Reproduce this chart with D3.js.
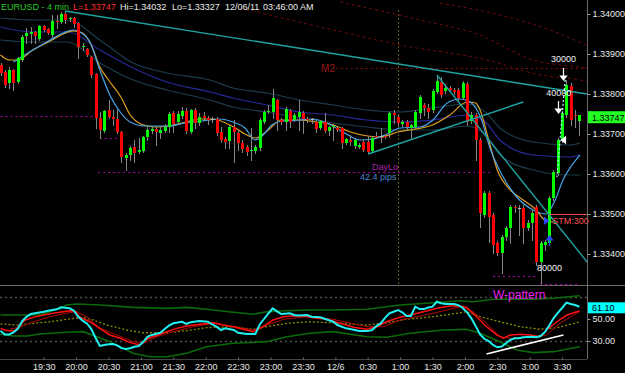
<!DOCTYPE html>
<html>
<head>
<meta charset="utf-8">
<script src="https://cdn.jsdelivr.net/npm/d3@7"></script>
<style>
  html, body { margin: 0; padding: 0; background: #000; }
  svg { display: block; }
  text { font-family: Arial, "Liberation Sans", sans-serif; }
</style>
</head>
<body>
<svg id="chart" width="625" height="373"></svg>
<script>
'use strict';

// EURUSD, 4 min bars from 18:50 to 03:46
const firstBar = new Date(2011, 11, 5, 18, 50);
const barMinutes = 4;
const symbol = 'EURUSD - 4 min';
const stamp = ['12/06/11', '03:46:00 AM'];
const sessionHigh = 1.34032;
const sessionLow = 1.33327;

const opens = [
  1.338725, 1.33855, 1.338275, 1.3386, 1.3383, 1.33885, 1.33945, 1.3395, 1.33955, 1.339375,
  1.3397, 1.339625, 1.339475, 1.339825, 1.3398, 1.34, 1.339875, 1.3399, 1.339775, 1.339175,
  1.339125, 1.338925, 1.3385, 1.3374, 1.337075, 1.3376, 1.337425, 1.337375, 1.33705, 1.3364,
  1.336475, 1.336675, 1.33655, 1.336575, 1.336925, 1.337075, 1.337125, 1.337025, 1.337075, 1.337175,
  1.337525, 1.3373, 1.33745, 1.337575, 1.33705, 1.3376, 1.337275, 1.33745, 1.3374, 1.337375,
  1.337375, 1.33705, 1.336875, 1.336825, 1.337175, 1.337025, 1.336775, 1.336675, 1.336575, 1.336575,
  1.33665, 1.3373, 1.33755, 1.33755, 1.33785, 1.33735, 1.3373, 1.337575, 1.33735, 1.337425,
  1.337525, 1.337375, 1.337375, 1.3373, 1.33715, 1.3373, 1.337075, 1.337175, 1.33715, 1.33715,
  1.336775, 1.33685, 1.3367, 1.336675, 1.3368, 1.3368, 1.336575, 1.33695, 1.33695, 1.33695,
  1.337025, 1.337525, 1.337425, 1.33725, 1.3373, 1.33715, 1.337175, 1.337525, 1.337725, 1.33765,
  1.3376, 1.33805, 1.3383, 1.338075, 1.33815, 1.3381, 1.3381, 1.3379, 1.33825, 1.337325,
  1.337475, 1.33685, 1.334975, 1.335525, 1.334975, 1.334275, 1.334025, 1.334425, 1.33465, 1.335175,
  1.33515, 1.33515, 1.33465, 1.334775, 1.335175, 1.3338, 1.334225, 1.334275, 1.3354, 1.336025,
  1.33685, 1.337475, 1.3382, 1.337475, 1.337325
];
const highs = [
  1.338775, 1.3386, 1.338675, 1.338625, 1.338925, 1.339475, 1.33965, 1.339675, 1.339575, 1.339725,
  1.339725, 1.33965, 1.339975, 1.339975, 1.34005, 1.34005, 1.339925, 1.339925, 1.3398, 1.339275,
  1.33915, 1.33895, 1.338525, 1.33755, 1.3376, 1.33785, 1.3376, 1.337625, 1.337075, 1.336525,
  1.3367, 1.33685, 1.3369, 1.33695, 1.337175, 1.337175, 1.337175, 1.337175, 1.33725, 1.33755,
  1.337575, 1.337575, 1.337675, 1.33765, 1.337625, 1.33765, 1.337525, 1.33755, 1.33745, 1.337425,
  1.337425, 1.337175, 1.336925, 1.337225, 1.33735, 1.3371, 1.33685, 1.336725, 1.33715, 1.336725,
  1.3374, 1.3376, 1.337725, 1.338125, 1.337875, 1.3374, 1.337675, 1.337625, 1.337525, 1.33785,
  1.337575, 1.337425, 1.3374, 1.33735, 1.33735, 1.337525, 1.3372, 1.33725, 1.337175, 1.337175,
  1.3369, 1.336975, 1.3369, 1.336775, 1.33685, 1.33695, 1.33695, 1.33705, 1.33715, 1.337,
  1.33755, 1.3376, 1.337475, 1.33735, 1.33735, 1.33725, 1.3376, 1.337975, 1.337775, 1.33775,
  1.338125, 1.338475, 1.338425, 1.33825, 1.3382, 1.33815, 1.33815, 1.338325, 1.3383, 1.33755,
  1.337525, 1.3369, 1.335575, 1.335575, 1.335025, 1.334325, 1.334475, 1.3347, 1.335225, 1.335225,
  1.335225, 1.335225, 1.33485, 1.3351, 1.335225, 1.334325, 1.33435, 1.33545, 1.3361, 1.3369,
  1.337575, 1.33835, 1.338275, 1.3376, 1.337475
];
const lows = [
  1.338475, 1.338175, 1.33815, 1.3381, 1.338275, 1.338825, 1.339275, 1.339275, 1.339275, 1.33935,
  1.339575, 1.3395, 1.339425, 1.33965, 1.339775, 1.339775, 1.339825, 1.339675, 1.3389, 1.3391,
  1.33895, 1.338425, 1.33715, 1.3369, 1.33705, 1.3374, 1.337225, 1.337025, 1.3363, 1.3361,
  1.33635, 1.3363, 1.336525, 1.33655, 1.33685, 1.337025, 1.336725, 1.3369, 1.33705, 1.33705,
  1.33705, 1.33725, 1.3374, 1.337025, 1.337025, 1.33715, 1.337225, 1.33735, 1.33725, 1.3373,
  1.336975, 1.3368, 1.33665, 1.33665, 1.3363, 1.3366, 1.33655, 1.336475, 1.33635, 1.336525,
  1.3366, 1.337275, 1.337525, 1.3374, 1.3371, 1.33725, 1.3371, 1.337175, 1.337325, 1.3371,
  1.337025, 1.3373, 1.337275, 1.33705, 1.337125, 1.33705, 1.336975, 1.33685, 1.337075, 1.33665,
  1.33675, 1.336725, 1.33665, 1.33665, 1.336575, 1.336525, 1.33655, 1.3369, 1.3368, 1.3369,
  1.336925, 1.337275, 1.337225, 1.3372, 1.3371, 1.3369, 1.33715, 1.3374, 1.337475, 1.3374,
  1.33755, 1.338025, 1.337925, 1.338025, 1.3381, 1.338, 1.33785, 1.337875, 1.337225, 1.337275,
  1.33635, 1.334675, 1.334925, 1.3343, 1.334025, 1.333975, 1.333525, 1.33435, 1.334275, 1.33505,
  1.334475, 1.334275, 1.3346, 1.33435, 1.333725, 1.333275, 1.3341, 1.334225, 1.33535, 1.335975,
  1.3368, 1.337425, 1.337225, 1.337175, 1.336975
];
const closes = [
  1.338525, 1.338225, 1.3386, 1.338275, 1.3389, 1.339425, 1.339525, 1.33955, 1.33945, 1.3397,
  1.3396, 1.339525, 1.339825, 1.3398, 1.34, 1.33985, 1.3399, 1.33975, 1.339175, 1.3392,
  1.338975, 1.338475, 1.3374, 1.3371, 1.337575, 1.337425, 1.337375, 1.33705, 1.336425, 1.336475,
  1.33665, 1.336525, 1.3366, 1.336925, 1.3371, 1.337125, 1.33705, 1.3371, 1.337175, 1.3375,
  1.33725, 1.3375, 1.337575, 1.337075, 1.3376, 1.337275, 1.337425, 1.3374, 1.33735, 1.337375,
  1.337025, 1.33685, 1.3368, 1.337175, 1.33705, 1.336775, 1.336625, 1.33655, 1.3366, 1.336675,
  1.33735, 1.33755, 1.337575, 1.3379, 1.33735, 1.3373, 1.337625, 1.3373, 1.337475, 1.33755,
  1.337375, 1.33735, 1.337375, 1.337125, 1.337325, 1.337075, 1.337175, 1.3372, 1.3371, 1.336775,
  1.336875, 1.3368, 1.33685, 1.336725, 1.3366, 1.33655, 1.3369, 1.336925, 1.33695, 1.336925,
  1.337525, 1.337475, 1.337275, 1.3373, 1.337175, 1.337225, 1.33755, 1.337925, 1.33765, 1.33755,
  1.338075, 1.338325, 1.337975, 1.33815, 1.3381, 1.33805, 1.3379, 1.338275, 1.3373, 1.337475,
  1.33685, 1.335025, 1.335525, 1.334925, 1.334225, 1.334025, 1.334425, 1.33465, 1.335175, 1.33515,
  1.33515, 1.33465, 1.334775, 1.335025, 1.3338, 1.334275, 1.3343, 1.3354, 1.33605, 1.33685,
  1.337525, 1.338225, 1.33735, 1.33745, 1.33747
];

// studies on the price panel, [bar index, price]
const emaLine = [[0,1.338975],[2,1.33885],[4,1.33885],[7.5,1.3391],[11.5,1.339325],[14.5,1.3395],[16.8,1.33958],[19,1.339525],[21,1.339225],[23,1.338675],[25,1.33835],[28,1.3379],[30,1.337475],[32,1.337275],[34,1.3372],[36,1.337175],[39,1.3372],[43,1.3373],[46,1.337375],[49,1.337375],[54,1.337175],[57,1.336975],[59,1.3369],[62,1.3371],[65,1.33735],[69,1.33735],[73,1.3373],[77,1.337225],[81,1.33705],[85,1.33695],[88,1.336925],[92,1.33705],[100,1.337225],[104,1.337475],[108,1.3378],[110,1.337775],[111,1.3376],[113,1.33685],[115,1.3361],[118,1.3356],[121,1.33535],[124,1.3351],[126,1.33485],[128,1.3348]];
const fastLine = [[3,1.3388],[7.5,1.3391],[11.5,1.33935],[14.5,1.339525],[16.8,1.3396],[18.4,1.33955],[20.7,1.3393],[23,1.3386],[25.3,1.337975],[27.7,1.33755],[30,1.3373],[33.4,1.3372],[38.8,1.3372],[42.7,1.337275],[46.6,1.337325],[50.8,1.337375],[53.8,1.3373],[56.6,1.33715],[58.9,1.33685],[60.8,1.336975],[62.8,1.337225],[65.2,1.337325],[69.3,1.33735],[72.3,1.337375],[75.6,1.337275],[79.3,1.33705],[83.2,1.33685],[86.2,1.336875],[89.5,1.337],[92.5,1.33715],[97.1,1.337175],[100.1,1.33735],[103.4,1.337775],[106.4,1.337875],[108.7,1.3378],[111.2,1.3374],[113.3,1.33665],[116.1,1.335975],[119.1,1.335475],[123.3,1.3351],[126.3,1.335],[128.4,1.33535],[130.2,1.33585],[132.3,1.336225],[134.1,1.336475]];
const bandIdx = [0, 7.5, 15.4, 23, 30.7, 38.5, 48.5, 53.8, 61.7, 69.3, 77, 84.8, 92.5, 100.1, 108, 112.2, 115.6, 123.3, 131.8, 134.1];
const bandUpper = [1.3399, 1.33985, 1.33985, 1.33935, 1.338775, 1.338525, 1.33835, 1.33815, 1.338025, 1.33785, 1.337725, 1.3376, 1.33755, 1.33765, 1.33775, 1.33755, 1.33715, 1.3368, 1.336725, 1.336775];
const bandMid = [1.339675, 1.33955, 1.33955, 1.3391, 1.33865, 1.3383, 1.33805, 1.3379, 1.337725, 1.33755, 1.337475, 1.33735, 1.3373, 1.33735, 1.337475, 1.3373, 1.33685, 1.336475, 1.336425, 1.336475];
const bandLower = [1.33935, 1.3393, 1.3393, 1.338775, 1.33835, 1.3381, 1.33785, 1.337675, 1.33755, 1.3374, 1.337275, 1.337175, 1.3371, 1.3371, 1.3372, 1.336975, 1.336475, 1.3361, 1.335975, 1.335975];
const trendLines = [
  [[14.9, 1.340075], [135.8, 1.338]],
  [[85.1, 1.3365], [121, 1.3378]],
  [[101, 1.338475], [135.8, 1.3338]]
];
const pivotCurves = [
  [[55.4,1.34015],[74,1.339675],[92.5,1.339225],[112.6,1.33885],[124.9,1.338475],[134.1,1.33835],[136,1.3383]],
  [[78.6,1.3403],[97.1,1.33985],[111,1.339475],[123.3,1.33885],[134.1,1.338675],[136,1.33865]],
  [[101.7,1.340275],[115.6,1.339975],[127.2,1.3396],[136,1.3392]]
];
const m2Level = { from: 77.6, to: 136, price: 1.33865, label: 'M2', labelIdx: 74.2, labelPrice: 1.33856 };
const levelLines = [
  { from: 0, to: 21.9, price: 1.33745 },
  { from: 23, to: 27.2, price: 1.3369 },
  { from: 22.6, to: 113.3, price: 1.33605 },
  { from: 114, to: 124.2, price: 1.33345 },
  { from: 124.9, to: 134.1, price: 1.33325 }
];
const daySeparatorIdx = 92;
const dayLo = { text: 'DayLo', idx: 86, price: 1.3361 };
const rangeNote = { text: '42.4 pips', idx: 83.2, price: 1.33584 };
const sizeLabels = [
  { text: '30000', idx: 127.4, price: 1.3388 },
  { text: '40000', idx: 126.3, price: 1.33795 },
  { text: '80000', idx: 124.2, price: 1.333575 }
];
const stopLabel = { text: 'STM:300', idx: 127.7, price: 1.33475, lineFrom: 127.2, lineTo: 136, linePrice: 1.335 };
const arrows = [
  { idx: 130.2, price: 1.33835, dir: 'down' },
  { idx: 129.1, price: 1.337525, dir: 'down' },
  { idx: 129.7, price: 1.33685, dir: 'left' },
  { idx: 127, price: 1.33445, dir: 'up' },
  { idx: 126.7, price: 1.33483, dir: 'right' }
];
const tradePath = [[130.7, 1.33835], [128.8, 1.335925]];
const priceTicks = [1.334, 1.335, 1.336, 1.337, 1.338, 1.339, 1.340];

// oscillator panel, [bar index, value]
const oscMain = [[0,39.4],[1,36],[2,36],[3,37.9],[4,41],[5,48],[6,52],[7,54.5],[8,55.2],[10,56.6],[11,57.5],[13,58.8],[14,60.6],[15,60.3],[16,59.7],[17,57.5],[18,52],[19,48.5],[20,46],[21,41],[22,33],[23,25.5],[24,26.4],[25,27],[26,27.3],[27,26],[28,23.5],[29,22.7],[30,23.4],[31,24.8],[32,25.5],[33,29],[34,33.8],[35,35.5],[37,37.5],[38,41],[39,44],[40,46.1],[42,47.5],[43,45.5],[44,47],[46,48.2],[48,47.5],[49,45],[50,43],[51,40],[52,41.5],[54,40],[55,37.5],[57,36.4],[59,36.4],[60,45],[61,50],[62,55],[63,59.7],[64,57],[65,54.5],[67,55.2],[68,53.6],[69,53.2],[71,53.6],[72,52.1],[74,51.5],[75,50.2],[77,47.5],[78,44.5],[80,41.5],[82,40],[83,39.1],[85,39],[86,40],[87,43.5],[88,46],[89,51],[90,55.2],[91,56.6],[92,58.2],[93,56.1],[94,52.7],[95,52.7],[96,61.2],[97,59],[98,59],[99,60.5],[100,61.2],[101,65.7],[102,64.3],[103,63.6],[105,63.6],[106,62.5],[107,60],[108,56],[109,50.6],[110,43.5],[111,36],[112,32],[113,30],[114,26.4],[115,24.3],[116,25],[117,28],[118,31],[119,32.5],[120,32.5],[121,33.4],[123,33.9],[124,33.4],[125,34.5],[126,38],[127,44],[128,50.6],[129,55.5],[130,60],[131,64.8],[132,63.6],[133,62.7],[134,61.1]];
const oscSignal = [[0,41.5],[1,40],[2,39.4],[3.4,39.4],[4.5,44.5],[5.7,49.1],[7.6,51.5],[9.9,53.6],[12.2,55.2],[14.5,56.6],[16.1,57.5],[17.2,57.3],[18.4,51.5],[20.7,47.5],[23,41.5],[25.3,35.5],[27.7,32.5],[30,28.5],[32.3,26.4],[34.2,32.5],[36.5,35.5],[38.5,38.5],[40.8,41.5],[43.1,43.6],[46.2,45.2],[49.3,46.6],[51.6,44.5],[53.9,43],[56.2,40.6],[58.5,38.5],[60.8,43],[63.1,49.1],[65.5,52.1],[67.8,53],[70.1,52.7],[72.4,51.2],[75.5,49.7],[78.6,46.1],[81.7,42.5],[84.8,40.6],[87.1,43],[89.4,47.5],[91.7,50.6],[94.8,53.6],[97.9,56.6],[101,59.7],[104,61.8],[106.4,61.8],[107.9,60.6],[110.2,52.1],[112.5,43],[114.9,35.5],[116.4,32.5],[118,35.5],[120.3,36.1],[122.6,35.5],[124.9,33.9],[126.4,40],[128.8,47.5],[131.1,53.6],[133.4,56.6],[134,57.3]];
const oscSlow = [[2.2,40.6],[4.5,42.7],[7.6,47.5],[11.5,52.1],[15.3,55.2],[17.6,56.6],[20,52.1],[23,41.5],[26.9,35.5],[30.7,29.4],[33,27.9],[36.2,33.9],[40,38.5],[44.6,43],[49.3,46.1],[53.9,43],[58.5,40],[61.6,44.5],[65.5,49.7],[70.9,52.1],[77,49.7],[84.8,43],[88.6,43],[92.5,49.1],[100.2,55.2],[106.4,61.2],[109.4,56.6],[112.5,46.1],[115.6,33.9],[118,32.5],[123.3,33.4],[126.4,35.5],[129.5,46.1],[133.4,55.2],[134,56.4]];
const oscMid = [[0,45.5],[3.75,44.5],[7.6,46.1],[11.5,47.5],[15.3,49.7],[19.2,51.5],[21.5,49.1],[24.6,44.5],[29.2,40],[33,37.5],[38.5,37.5],[43.1,39.4],[47.7,42.1],[53.9,43],[58.5,40.6],[61.6,43],[66.3,46.1],[71.6,47.5],[78.6,46.1],[84.8,44.5],[89.4,46.6],[94,49.7],[100.2,52.1],[105.6,55.2],[107.9,56.6],[111,52.1],[115.6,47.5],[120.3,43],[124.9,40.6],[128.8,42.1],[133.4,46.6],[134,47.3]];
const oscUpper = [[0,53.6],[4.5,53.6],[9.1,53.6],[13.8,59.7],[15.3,62.7],[17.6,63.6],[23,62.7],[30.7,60.6],[38.5,59.7],[43.1,60.6],[47.7,58.8],[53.9,56.1],[58.5,54.3],[61.6,56.6],[66.3,57.5],[71.6,58.2],[77,58.2],[84.8,58.8],[92.5,62.7],[100.2,64.8],[106.4,66.6],[109.4,65.7],[114.1,67.9],[123.3,67.9],[128,68.8],[134.1,71.2]];
const oscLower = [[0,36.1],[3,34.5],[6.1,34.5],[9.1,36.4],[15.3,37.9],[19.2,38.5],[22.3,33.9],[25.3,29.4],[30.7,18.8],[34.6,15.7],[38.5,15.7],[43.1,18.8],[47.7,24.8],[53.9,27.9],[61.6,29.4],[66.3,33.9],[71.6,37],[77,38.5],[84.8,33.9],[89.4,33.4],[94.8,37],[102.5,40],[107.9,40.6],[111,37],[115.6,29.4],[119.5,21.8],[123.3,19.4],[128,20.3],[134.1,24.8]];
const oscTrend = [[112.5, 18.2], [130.3, 35.5]];
const oscNote = { text: 'W-pattern', idx: 114, value: 68.4 };
const oscLevels = [30, 70];
const oscTicks = [30, 50];

// ---- layout
const W = 625, H = 373;
const plotRight = 587;
const mainBottom = 285;
const oscTop = 286, oscBottom = 358;
const axisY = 359;

const svg = d3.select('#chart');
svg.append('rect').attr('width', W).attr('height', H).attr('fill', '#000');

const barTime = idx => new Date(firstBar.getTime() + idx * barMinutes * 60000);
const lastIdx = opens.length - 1;

const x = d3.scaleTime()
  .domain([barTime(0), barTime(lastIdx)])
  .range([0.5, 579.4]);
const y = d3.scaleLinear().domain([1.334, 1.340]).range([254, 14]);
const oscY = d3.scaleLinear().domain([30, 70]).range([341, 297]);
const px = idx => x(barTime(idx));

const defs = svg.append('defs');
defs.append('clipPath').attr('id', 'clipMain')
  .append('rect').attr('x', 0).attr('y', 0).attr('width', plotRight).attr('height', mainBottom);
defs.append('clipPath').attr('id', 'clipOsc')
  .append('rect').attr('x', 0).attr('y', oscTop).attr('width', plotRight).attr('height', oscBottom - oscTop + 1);

const main = svg.append('g').attr('clip-path', 'url(#clipMain)');
const osc = svg.append('g').attr('clip-path', 'url(#clipOsc)');

const priceLine = d3.line().x(d => px(d[0])).y(d => y(d[1])).curve(d3.curveMonotoneX);
const straight = d3.line().x(d => px(d[0])).y(d => y(d[1]));
const oscLine = d3.line().x(d => px(d[0])).y(d => oscY(d[1]));

// day separator
main.append('line')
  .attr('x1', Math.round(px(daySeparatorIdx)) + 0.5).attr('x2', Math.round(px(daySeparatorIdx)) + 0.5)
  .attr('y1', 10).attr('y2', mainBottom)
  .attr('stroke', '#5e5e1c').attr('stroke-dasharray', '2,2');

// dark red pivot curves and M2
pivotCurves.forEach(c => {
  main.append('path').attr('d', priceLine(c)).attr('fill', 'none')
    .attr('stroke', '#6e0c0c').attr('stroke-width', 1).attr('stroke-dasharray', '3,3');
});
main.append('line')
  .attr('x1', px(m2Level.from)).attr('x2', px(m2Level.to))
  .attr('y1', Math.round(y(m2Level.price)) + 0.5).attr('y2', Math.round(y(m2Level.price)) + 0.5)
  .attr('stroke', '#8a1010').attr('stroke-dasharray', '2,3');
main.append('text')
  .attr('x', px(m2Level.labelIdx)).attr('y', y(m2Level.labelPrice))
  .attr('font-size', 10).attr('fill', '#9a1818').text(m2Level.label);

// bands
const bandPts = vals => bandIdx.map((d, i) => [d, vals[i]]);
[[bandUpper, '#1c3c4c'], [bandMid, '#28289a'], [bandLower, '#1c3c4c']].forEach(([vals, col]) => {
  main.append('path').attr('d', priceLine(bandPts(vals))).attr('fill', 'none')
    .attr('stroke', col).attr('stroke-width', 1.2);
});

// magenta levels
levelLines.forEach(l => {
  main.append('line')
    .attr('x1', px(l.from)).attr('x2', px(l.to))
    .attr('y1', Math.round(y(l.price)) + 0.5).attr('y2', Math.round(y(l.price)) + 0.5)
    .attr('stroke', '#a800a8').attr('stroke-dasharray', '2,3');
});

// moving averages
main.append('path').attr('d', priceLine(emaLine)).attr('fill', 'none')
  .attr('stroke', '#e0a020').attr('stroke-width', 1.2);
main.append('path').attr('d', priceLine(fastLine)).attr('fill', 'none')
  .attr('stroke', '#48a4e8').attr('stroke-width', 1.2);

// candles
const bars = opens.map((o, i) => ({ t: barTime(i), o: o, h: highs[i], l: lows[i], c: closes[i] }));
const bar = main.selectAll('g.bar').data(bars).join('g').attr('class', 'bar');
bar.append('line')
  .attr('x1', d => Math.round(x(d.t)) + 0.5)
  .attr('x2', d => Math.round(x(d.t)) + 0.5)
  .attr('y1', d => Math.round(y(Math.max(d.h, d.o, d.c))))
  .attr('y2', d => Math.round(y(Math.min(d.l, d.o, d.c))) + 1)
  .attr('stroke', '#858585');
bar.append('rect')
  .attr('x', d => Math.round(x(d.t)) - 1)
  .attr('width', 3)
  .attr('y', d => Math.round(y(Math.max(d.o, d.c))))
  .attr('height', d => Math.max(1, Math.round(y(Math.min(d.o, d.c))) - Math.round(y(Math.max(d.o, d.c)))))
  .attr('fill', d => d.c > d.o ? '#00ff00' : (d.c < d.o ? '#ff0000' : '#c0c0c0'));

// trend lines
trendLines.forEach(t => {
  main.append('path').attr('d', straight(t)).attr('fill', 'none')
    .attr('stroke', '#1fa3a3').attr('stroke-width', 1.4);
});

// trade marks
main.append('path').attr('d', straight(tradePath)).attr('fill', 'none')
  .attr('stroke', '#b8ffff').attr('stroke-width', 1.2).attr('stroke-dasharray', '2,2');
arrows.forEach(a => {
  const ax = Math.round(px(a.idx)) + 0.5, ay = y(a.price);
  let d;
  if (a.dir === 'down') d = `M${ax},${ay - 12}V${ay - 3}M${ax - 3},${ay - 4}L${ax},${ay}L${ax + 3},${ay - 4}Z`;
  else if (a.dir === 'up') d = `M${ax},${ay + 10}V${ay + 3}M${ax - 3},${ay + 4}L${ax},${ay}L${ax + 3},${ay + 4}Z`;
  else if (a.dir === 'right') d = `M${ax - 4},${ay - 3}L${ax},${ay}L${ax - 4},${ay + 3}Z`;
  else d = `M${ax + 4},${ay - 3}L${ax},${ay}L${ax + 4},${ay + 3}Z`;
  const col = (a.dir === 'up' || a.dir === 'right') ? '#2a48ff' : '#ffffff';
  main.append('path').attr('d', d).attr('stroke', col).attr('fill', col).attr('stroke-width', 1.2);
});

// stop label
main.append('line')
  .attr('x1', px(stopLabel.lineFrom)).attr('x2', px(stopLabel.lineTo))
  .attr('y1', Math.round(y(stopLabel.linePrice)) + 0.5).attr('y2', Math.round(y(stopLabel.linePrice)) + 0.5)
  .attr('stroke', '#ff4848');

// texts on the price panel
const ann = svg.append('g').attr('font-size', 9);
ann.append('text').attr('x', px(stopLabel.idx)).attr('y', y(stopLabel.price))
  .attr('fill', '#ff5050').text(stopLabel.text);
sizeLabels.forEach(s => {
  ann.append('text').attr('x', px(s.idx)).attr('y', y(s.price)).attr('fill', '#f2f2f2').text(s.text);
});
ann.append('text').attr('x', px(dayLo.idx)).attr('y', y(dayLo.price)).attr('fill', '#a820a8').text(dayLo.text);
ann.append('text').attr('x', px(rangeNote.idx)).attr('y', y(rangeNote.price)).attr('fill', '#4a84cc').text(rangeNote.text);

// header
const fmt5 = d3.format('.5f');
const headerParts = [
  [symbol, '#26c826', 1],
  ['L=' + fmt5(closes[lastIdx]), '#ff2a2a', 73],
  ['Hi=' + fmt5(sessionHigh), '#ececec', 120],
  ['Lo=' + fmt5(sessionLow), '#ececec', 172],
  [stamp[0], '#ececec', 225],
  [stamp[1], '#ececec', 263]
];
headerParts.forEach(([t, col, hx]) => {
  svg.append('text').attr('x', hx).attr('y', 9.5).attr('font-size', 9).attr('fill', col).text(t);
});

// ---- oscillator panel
oscLevels.forEach(v => {
  osc.append('line').attr('x1', 0).attr('x2', plotRight)
    .attr('y1', Math.round(oscY(v)) + 0.5).attr('y2', Math.round(oscY(v)) + 0.5)
    .attr('stroke', '#505050').attr('stroke-width', 1.5).attr('stroke-dasharray', '2,3');
});
[oscUpper, oscLower].forEach(s => {
  osc.append('path').attr('d', oscLine(s)).attr('fill', 'none')
    .attr('stroke', '#0a6a0a').attr('stroke-width', 1.6);
});
osc.append('path').attr('d', oscLine(oscMid)).attr('fill', 'none')
  .attr('stroke', '#8c8c00').attr('stroke-width', 1.3).attr('stroke-dasharray', '2,2');
osc.append('path').attr('d', oscLine(oscTrend)).attr('fill', 'none')
  .attr('stroke', '#ffffff').attr('stroke-width', 1.6);
osc.append('path').attr('d', oscLine(oscSlow)).attr('fill', 'none')
  .attr('stroke', '#b00000').attr('stroke-width', 1);
osc.append('path').attr('d', oscLine(oscSignal)).attr('fill', 'none')
  .attr('stroke', '#ff1010').attr('stroke-width', 1.5);
osc.append('path').attr('d', oscLine(oscMain)).attr('fill', 'none')
  .attr('stroke', '#20f0f0').attr('stroke-width', 2);
svg.append('text').attr('x', px(oscNote.idx)).attr('y', oscY(oscNote.value))
  .attr('font-size', 12).attr('fill', '#ee22ee').text(oscNote.text);

// ---- frame lines
svg.append('line').attr('x1', plotRight + 0.5).attr('x2', plotRight + 0.5).attr('y1', 0).attr('y2', axisY)
  .attr('stroke', '#6a6a6a');
svg.append('line').attr('x1', 0).attr('x2', W).attr('y1', mainBottom + 0.5).attr('y2', mainBottom + 0.5)
  .attr('stroke', '#6a6a6a');
svg.append('line').attr('x1', 0).attr('x2', plotRight).attr('y1', axisY + 0.5).attr('y2', axisY + 0.5)
  .attr('stroke', '#444');

// ---- price axis
const priceAxis = svg.append('g').attr('transform', `translate(${plotRight + 0.5},0)`)
  .call(d3.axisRight(y).tickValues(priceTicks).tickFormat(fmt5).tickSize(3).tickPadding(2));
priceAxis.select('.domain').remove();
priceAxis.selectAll('line').attr('stroke', '#9a9a9a');
priceAxis.selectAll('text').attr('fill', '#e8e8e8').attr('font-size', 9).attr('font-family', null);

// last price tag
const lastY = y(closes[lastIdx]) + 2;
svg.append('rect').attr('x', plotRight + 1).attr('y', lastY - 6).attr('width', W - plotRight - 1).attr('height', 12)
  .attr('fill', '#22ff22');
svg.append('text').attr('x', plotRight + 5).attr('y', lastY + 3.5).attr('font-size', 9).attr('fill', '#000')
  .text(fmt5(closes[lastIdx]));

// ---- oscillator axis
const oscAxis = svg.append('g').attr('transform', `translate(${plotRight + 0.5},0)`)
  .call(d3.axisRight(oscY).tickValues(oscTicks).tickFormat(d3.format('.2f')).tickSize(3).tickPadding(2));
oscAxis.select('.domain').remove();
oscAxis.selectAll('line').attr('stroke', '#9a9a9a');
oscAxis.selectAll('text').attr('fill', '#e8e8e8').attr('font-size', 9).attr('font-family', null);
const oscLast = oscMain[oscMain.length - 1][1];
const oscLastY = oscY(oscLast) + 1;
svg.append('rect').attr('x', plotRight + 1).attr('y', oscLastY - 5.5).attr('width', W - plotRight - 1).attr('height', 11)
  .attr('fill', '#00ffff');
svg.append('text').attr('x', plotRight + 5).attr('y', oscLastY + 3.5).attr('font-size', 9).attr('fill', '#000')
  .text(d3.format('.2f')(oscLast));

// ---- time axis
const timeTicks = d3.timeMinute.every(30).range(new Date(2011, 11, 5, 19, 30), new Date(2011, 11, 6, 3, 31));
const fmtHM = d3.timeFormat('%-H:%M');
const fmtDay = d3.timeFormat('%-m/%-d');
const timeAxis = svg.append('g').attr('transform', `translate(0,${axisY + 0.5})`)
  .call(d3.axisBottom(x).tickValues(timeTicks)
    .tickFormat(d => (d.getHours() === 0 && d.getMinutes() === 0) ? fmtDay(d) : fmtHM(d))
    .tickSize(-2).tickPadding(4));
timeAxis.select('.domain').remove();
timeAxis.selectAll('line').attr('stroke', '#777');
timeAxis.selectAll('text').attr('fill', '#e8e8e8').attr('font-size', 9).attr('font-family', null);
</script>
</body>
</html>
